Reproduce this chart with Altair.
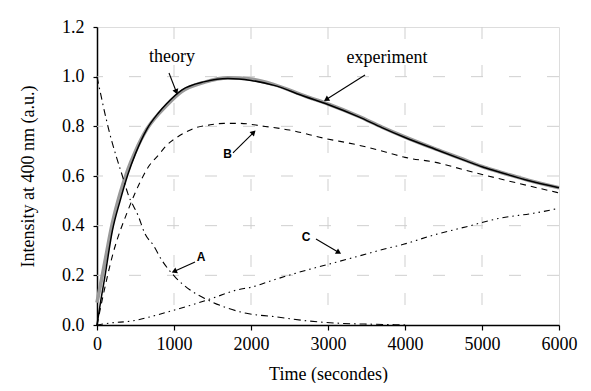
import math
import altair as alt
import pandas as pd

# ---------------- data ----------------
theory_t = [0, 50, 100, 200, 300, 400, 500, 650, 800, 900, 1100, 1400, 1700, 2000,
            2300, 2700, 3000, 3400, 3700, 4000, 4400, 4800, 5000, 5200, 5600, 6000]
theory_v = [0.0, 0.10, 0.19, 0.38, 0.50, 0.605, 0.69, 0.79, 0.855, 0.89, 0.946, 0.98,
            0.993, 0.985, 0.965, 0.92, 0.888, 0.838, 0.795, 0.755, 0.707, 0.66, 0.637,
            0.618, 0.582, 0.553]

exp_t = [0, 50, 100, 200, 300, 400, 500, 650, 800, 900, 1100, 1400, 1700, 2000,
         2300, 2700, 3000, 3400, 3700, 4000, 4400, 4800, 5000, 5200, 5600, 6000]
exp_v = [0.09, 0.17, 0.25, 0.41, 0.53, 0.625, 0.70, 0.79, 0.85, 0.883, 0.94, 0.978,
         0.995, 0.99, 0.968, 0.922, 0.89, 0.84, 0.797, 0.757, 0.708, 0.662, 0.638,
         0.619, 0.583, 0.553]

A_t = [0, 150, 350, 400, 540, 620, 730, 840, 1010, 1210, 1400, 1640, 1940, 2290,
       2720, 3150, 3600, 4050]
A_v = [1.0, 0.79, 0.58, 0.53, 0.436, 0.369, 0.322, 0.262, 0.195, 0.141, 0.107, 0.074,
       0.047, 0.034, 0.017, 0.007, 0.003, 0.0]

B_t = [0, 60, 210, 400, 600, 670, 800, 910, 1040, 1165, 1300, 1450, 1650, 1850, 2150,
       2500, 2950, 3400, 3800, 4000, 4400, 4800, 5200, 5600, 6000]
B_v = [0.0, 0.09, 0.29, 0.46, 0.60, 0.638, 0.685, 0.725, 0.756, 0.779, 0.796, 0.805,
       0.812, 0.812, 0.801, 0.785, 0.752, 0.724, 0.692, 0.675, 0.655, 0.622, 0.591,
       0.561, 0.532]

C_t = [0, 170, 470, 775, 1035, 1295, 1555, 1815, 2000, 2290, 2720, 3000, 3370, 3720,
       3980, 4370, 4800, 5230, 5670, 6000]
C_v = [0.0, 0.008, 0.017, 0.04, 0.063, 0.087, 0.114, 0.141, 0.152, 0.181, 0.221, 0.244,
       0.275, 0.305, 0.325, 0.362, 0.396, 0.43, 0.45, 0.47]

x_ticks = [0, 500, 1000, 1500, 2000, 2500, 3000, 3500, 4000, 4500, 5000, 5500, 6000]
y_ticks = [0.0, 0.1, 0.2, 0.3, 0.4, 0.5, 0.6, 0.7, 0.8, 0.9, 1.0, 1.1, 1.2]
grid_x = [1000, 2000, 3000, 4000, 5000]
grid_y = [0.2, 0.4, 0.6, 0.8, 1.0]

label_text = ["theory", "experiment"]
label_t = [974, 3766]
label_v = [1.079, 1.075]

curve_text = ["A", "B", "C"]
curve_text_t = [1351, 1695, 2714]
curve_text_v = [0.274, 0.689, 0.354]

arrow_x1 = [935, 3481, 1766, 1273, 2844]
arrow_y1 = [1.015, 1.007, 0.693, 0.254, 0.346]
arrow_x2 = [1026, 2987, 2026, 1013, 3130]
arrow_y2 = [0.942, 0.910, 0.773, 0.217, 0.294]

# ---------------- chart ----------------
W, H = 462, 298
XMAX, YMAX = 6000, 1.2
FONT = "Liberation Serif"

xs = alt.Scale(domain=[0, XMAX], nice=False, zero=False)
ys = alt.Scale(domain=[0, YMAX], nice=False, zero=False)

x_axis = alt.Axis(values=x_ticks, grid=False, tickSize=5, tickColor="black",
                  tickWidth=1.2, domainColor="black", domainWidth=1.5,
                  labelExpr="datum.value % 1000 == 0 ? format(datum.value, 'd') : ''",
                  labelFont=FONT, labelFontSize=18, labelColor="black",
                  labelPadding=5, labelFlush=False, labelOverlap=False,
                  title="Time (secondes)", titleFont=FONT, titleFontSize=18,
                  titleFontWeight="normal", titleColor="black", titlePadding=12)
y_axis = alt.Axis(values=y_ticks, grid=False, tickSize=4, tickColor="black",
                  tickWidth=1.2, domainColor="black", domainWidth=1.5,
                  labelExpr="round(datum.value * 10) % 2 == 0 ? format(datum.value, '.1f') : ''",
                  labelFont=FONT, labelFontSize=18, labelColor="black",
                  labelPadding=9, labelFlush=False, labelOverlap=False,
                  title="Intensity at 400 nm (a.u.)", titleFont=FONT, titleFontSize=18,
                  titleFontWeight="normal", titleColor="black", titlePadding=24)

GRID = dict(color="#cfcfcf", strokeWidth=1, strokeDash=[12, 26])
gx = alt.Chart(pd.DataFrame({"t": grid_x})).mark_rule(**GRID).encode(
    x=alt.X("t:Q", scale=xs, axis=x_axis))
gy = alt.Chart(pd.DataFrame({"v": grid_y})).mark_rule(**GRID).encode(
    y=alt.Y("v:Q", scale=ys, axis=y_axis))


def curve(ts, vs, **kw):
    return alt.Chart(pd.DataFrame({"t": ts, "v": vs})).mark_line(
        interpolate="monotone", **kw).encode(
        x=alt.X("t:Q", scale=xs), y=alt.Y("v:Q", scale=ys))


exp_line = curve(exp_t, exp_v, color="#9a9a9a", strokeWidth=3.6)
theory_line = curve(theory_t, theory_v, color="black", strokeWidth=1.5)
a_line = curve(A_t, A_v, color="black", strokeWidth=1.1, strokeDash=[7, 4, 1.5, 4])
b_line = curve(B_t, B_v, color="black", strokeWidth=1.1, strokeDash=[6, 5])
c_line = curve(C_t, C_v, color="black", strokeWidth=1.1,
               strokeDash=[6, 4, 1.5, 4, 1.5, 4])

arr_df = pd.DataFrame({"x1": arrow_x1, "y1": arrow_y1, "x2": arrow_x2, "y2": arrow_y2})
arr_df["ang"] = [
    math.degrees(math.atan2((b - a) * W / XMAX, (d - c) * H / YMAX)) % 360
    for a, b, c, d in zip(arrow_x1, arrow_x2, arrow_y1, arrow_y2)
]
shafts = alt.Chart(arr_df).mark_rule(color="black", strokeWidth=1.1).encode(
    x=alt.X("x1:Q", scale=xs), y=alt.Y("y1:Q", scale=ys), x2="x2:Q", y2="y2:Q")
heads = alt.Chart(arr_df).mark_point(
    shape="triangle", filled=True, color="black", size=38, opacity=1).encode(
    x=alt.X("x2:Q", scale=xs), y=alt.Y("y2:Q", scale=ys),
    angle=alt.Angle("ang:Q", scale=None))

labels = alt.Chart(pd.DataFrame({"s": label_text, "t": label_t, "v": label_v})).mark_text(
    font=FONT, fontSize=18, color="black", align="center", baseline="middle").encode(
    x=alt.X("t:Q", scale=xs), y=alt.Y("v:Q", scale=ys), text="s:N")
letters = alt.Chart(pd.DataFrame({"s": curve_text, "t": curve_text_t, "v": curve_text_v})).mark_text(
    font="Liberation Sans", fontSize=12, fontWeight="bold", color="black",
    align="center", baseline="middle").encode(
    x=alt.X("t:Q", scale=xs), y=alt.Y("v:Q", scale=ys), text="s:N")

chart = alt.layer(gx, gy, exp_line, theory_line, a_line, b_line, c_line,
                  shafts, heads, labels, letters).properties(
    width=W, height=H,
    padding={"left": 89, "top": 19, "right": 24, "bottom": 58},
    autosize=alt.AutoSizeParams(type="none"),
).configure_view(stroke="black", strokeWidth=1.5).configure(background="white")

chart.save("out.html", embed_options={"renderer": "svg", "actions": False})
